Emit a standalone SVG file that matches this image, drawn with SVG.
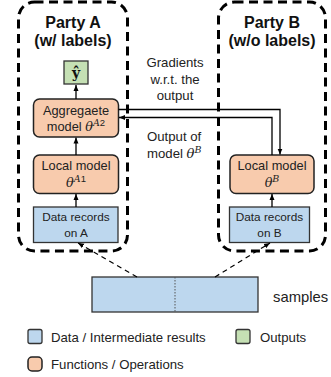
<svg xmlns="http://www.w3.org/2000/svg" width="331" height="377" viewBox="0 0 331 377">
<defs>
<marker id="ah" markerUnits="userSpaceOnUse" markerWidth="6" markerHeight="6" viewBox="0 0 6 6" refX="6" refY="3" orient="auto">
<path d="M0,0.5 L6,3 L0,5.5 Z" fill="#000"/>
</marker>
<style>
.party{fill:none;stroke:#000;stroke-width:3;stroke-dasharray:9 5.5}
.data{fill:#bdd7ee;stroke:#333;stroke-width:1.3}
.func{fill:#f8cbad;stroke:#222;stroke-width:1.5}
.out{fill:#c5e0b4;stroke:#333;stroke-width:1.3}
.t{font-family:"Liberation Sans",Arial,sans-serif;font-size:12.8px;fill:#222}
.s{font-size:11.8px}
.l{font-size:13.2px}
.xl{font-size:14.8px}
.c{text-anchor:middle}
.h{font-family:"Liberation Sans",Arial,sans-serif;font-size:16px;font-weight:bold;fill:#111;text-anchor:middle}
.th{font-family:"DejaVu Serif","Liberation Serif",serif;font-style:italic}
.ln{fill:none;stroke:#000;stroke-width:1.3}
.dl{fill:none;stroke:#000;stroke-width:1.2;stroke-dasharray:5 4}
</style>
</defs>

<g id="partyA">
<rect class="party" x="18.5" y="2" width="109" height="249" rx="16"/>
<text class="h" x="73" y="28">Party A</text>
<text class="h" x="73" y="46">(w/ labels)</text>
</g>
<g id="partyB">
<rect class="party" x="218.5" y="2" width="107" height="249" rx="16"/>
<text class="h" x="272" y="28">Party B</text>
<text class="h" x="272" y="46">(w/o labels)</text>
</g>

<g id="yhat">
<rect class="out" x="64" y="61" width="24" height="23"/>
<text x="76" y="78" text-anchor="middle" font-family="'DejaVu Serif','Liberation Serif',serif" font-weight="bold" font-size="14" fill="#111">ŷ</text>
</g>
<g id="aggregate">
<rect class="func" x="33.5" y="99" width="85" height="38" rx="6"/>
<text class="t c" x="76" y="115">Aggregaete</text>
<text class="t c" x="76" y="131">model <tspan class="th">θ</tspan><tspan dy="-5" font-size="9.5"><tspan class="th">A</tspan>2</tspan></text>
</g>
<g id="localA">
<rect class="func" x="33.5" y="155" width="85" height="38.5" rx="6"/>
<text class="t c" x="76" y="170">Local model</text>
<text class="t c" x="76" y="187"><tspan class="th">θ</tspan><tspan dy="-5" font-size="9.5"><tspan class="th">A</tspan>1</tspan></text>
</g>
<g id="dataA">
<rect class="data" x="33.5" y="207" width="84.5" height="35.5"/>
<text class="t s c" x="76" y="221">Data records</text>
<text class="t s c" x="76" y="237">on A</text>
</g>
<g id="localB">
<rect class="func" x="230" y="155" width="84" height="38.5" rx="6"/>
<text class="t c" x="272" y="170">Local model</text>
<text class="t c" x="272" y="187"><tspan class="th">θ</tspan><tspan dy="-5" font-size="9.5" class="th">B</tspan></text>
</g>
<g id="dataB">
<rect class="data" x="229.5" y="207" width="80" height="35.5"/>
<text class="t s c" x="269.5" y="221">Data records</text>
<text class="t s c" x="269.5" y="237">on B</text>
</g>
<g id="samples">
<rect class="data" x="92" y="277" width="166" height="35"/>
<line x1="175" y1="277" x2="175" y2="312" stroke="#555" stroke-width="1" stroke-dasharray="1.5 1.5"/>
<text class="t xl" x="273" y="302">samples</text>
</g>

<g id="labels">
<text class="t l c" x="175" y="67">Gradients</text>
<text class="t l c" x="175" y="84">w.r.t. the</text>
<text class="t l c" x="175" y="100">output</text>
<text class="t l" x="147" y="141">Output of</text>
<text class="t l" x="147" y="158">model <tspan class="th">θ</tspan><tspan dy="-5" font-size="9.5" class="th">B</tspan></text>
</g>

<g id="connectors">
<path class="ln" d="M76 99 V85" marker-end="url(#ah)"/>
<path class="ln" d="M76 155 V137.5" marker-end="url(#ah)"/>
<path class="ln" d="M76 207 V194" marker-end="url(#ah)"/>
<path class="ln" d="M272 207 V194" marker-end="url(#ah)"/>
<path class="ln" d="M118.5 109.5 H280 V154.5" marker-end="url(#ah)"/>
<path class="ln" d="M272 155 V117.5 H119" marker-end="url(#ah)"/>
<path class="dl" d="M137 277 L78 243" marker-end="url(#ah)"/>
<path class="dl" d="M215 277 L270 243" marker-end="url(#ah)"/>
</g>

<g id="legend">
<rect class="data" x="28" y="329.5" width="14" height="14" rx="2"/>
<text class="t l" x="51" y="342">Data / Intermediate results</text>
<rect class="out" x="236" y="329.5" width="14" height="14" rx="2"/>
<text class="t l" x="260" y="342">Outputs</text>
<rect class="func" x="28" y="357" width="14" height="14" rx="4"/>
<text class="t l" x="51" y="369">Functions / Operations</text>
</g>
</svg>
